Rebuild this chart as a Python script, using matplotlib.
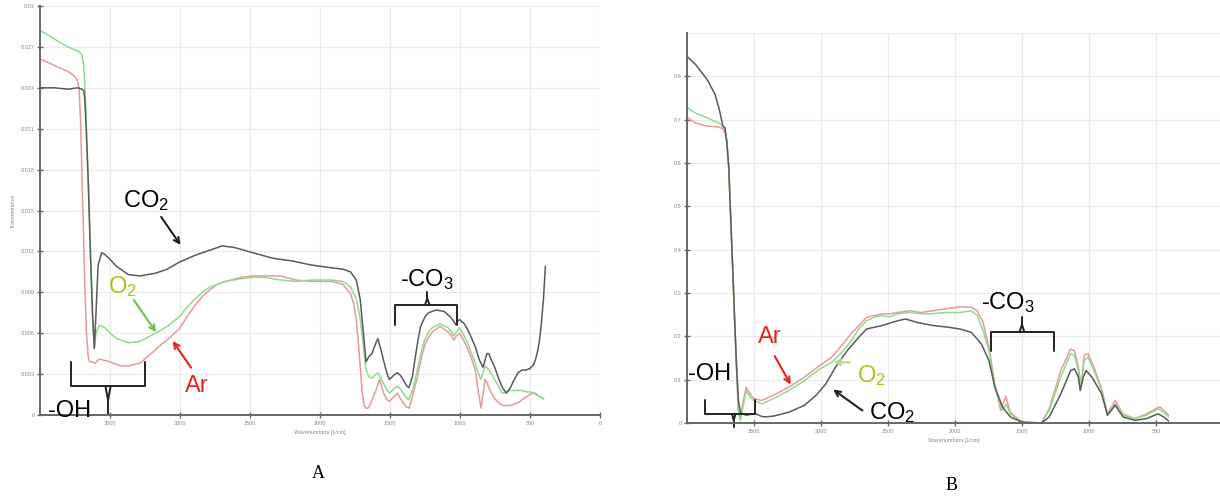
import numpy as np
import matplotlib
matplotlib.use("Agg")
import matplotlib.pyplot as plt

plt.rcParams['font.family'] = ['Liberation Sans', 'DejaVu Sans']
plt.rcParams['mathtext.default'] = 'regular'

# ---- panel A spectra (wavenumber, transmittance) ----
wn_a_co2 = [4000, 3900, 3800, 3731, 3700, 3688, 3680, 3670, 3655, 3640, 3625, 3612, 3600, 3585, 3560, 3540,
            3508, 3453, 3369, 3286, 3174, 3091, 3007, 2896, 2784, 2700, 2617, 2478, 2339, 2200, 2061, 1921,
            1838, 1782, 1741, 1713, 1690, 1671, 1650, 1629, 1600, 1587, 1565, 1546, 1520, 1504, 1475, 1448,
            1425, 1406, 1385, 1365, 1340, 1323, 1300, 1281, 1250, 1225, 1170, 1114, 1070, 1040, 1030, 1015,
            1003, 970, 947, 920, 891, 860, 836, 822, 808, 794, 775, 752, 725, 697, 669, 640, 613, 585, 558,
            530, 502, 474, 460, 445, 432, 418, 404, 390]
t_a_co2 = [0.0240, 0.0240, 0.0239, 0.0240, 0.0239, 0.0238, 0.0232, 0.0210, 0.0170, 0.0120, 0.0075, 0.0049,
           0.0075, 0.0110, 0.0119, 0.0118, 0.0115, 0.0109, 0.0103, 0.0102, 0.0104, 0.0107, 0.0112, 0.0117,
           0.0121, 0.0124, 0.0123, 0.0119, 0.0115, 0.0113, 0.0110, 0.0108, 0.0107, 0.0105, 0.0099, 0.0085,
           0.0060, 0.0039, 0.0043, 0.0045, 0.0053, 0.0056, 0.0048, 0.0040, 0.0030, 0.0026, 0.0029, 0.0031,
           0.0029, 0.0026, 0.0022, 0.0020, 0.0028, 0.0040, 0.0055, 0.0065, 0.0072, 0.0075, 0.0077, 0.0076,
           0.0072, 0.0068, 0.0066, 0.0069, 0.0070, 0.0067, 0.0063, 0.0057, 0.0050, 0.0040, 0.0035, 0.0040,
           0.0045, 0.0045, 0.0040, 0.0035, 0.0027, 0.0020, 0.0016, 0.0020, 0.0026, 0.0031, 0.0033, 0.0033,
           0.0034, 0.0037, 0.0041, 0.0047, 0.0055, 0.0068, 0.0085, 0.0109]

wn_a_o2 = [4000, 3930, 3870, 3800, 3731, 3703, 3690, 3680, 3670, 3655, 3640, 3625, 3612, 3600, 3578, 3536,
           3500, 3453, 3369, 3286, 3230, 3174, 3091, 3007, 2950, 2896, 2840, 2784, 2673, 2562, 2480, 2395,
           2283, 2172, 2061, 1921, 1838, 1782, 1741, 1715, 1699, 1680, 1671, 1650, 1629, 1610, 1587, 1565,
           1546, 1520, 1504, 1475, 1448, 1425, 1406, 1385, 1365, 1340, 1309, 1280, 1253, 1225, 1198, 1142,
           1086, 1060, 1044, 1025, 1003, 975, 947, 920, 891, 870, 850, 836, 822, 808, 794, 775, 752, 725,
           697, 669, 641, 613, 585, 558, 530, 502, 474, 440, 404]
t_a_o2 = [0.0282, 0.0278, 0.0274, 0.0270, 0.0267, 0.0265, 0.0258, 0.0245, 0.0215, 0.0170, 0.0115, 0.0072,
          0.0049, 0.0060, 0.0066, 0.0064, 0.0060, 0.0056, 0.0053, 0.0054, 0.0057, 0.0060, 0.0065, 0.0072,
          0.0079, 0.0085, 0.0090, 0.0094, 0.0098, 0.0100, 0.0101, 0.0101, 0.0099, 0.0098, 0.0099, 0.0099,
          0.0098, 0.0094, 0.0085, 0.0072, 0.0058, 0.0040, 0.0033, 0.0028, 0.0027, 0.0029, 0.0031, 0.0027,
          0.0023, 0.0018, 0.0016, 0.0019, 0.0021, 0.0019, 0.0016, 0.0013, 0.0011, 0.0018, 0.0031, 0.0045,
          0.0055, 0.0061, 0.0064, 0.0067, 0.0064, 0.0061, 0.0058, 0.0061, 0.0064, 0.0059, 0.0053, 0.0046,
          0.0038, 0.0031, 0.0026, 0.0031, 0.0036, 0.0035, 0.0033, 0.0030, 0.0026, 0.0021, 0.0016, 0.0017,
          0.0018, 0.0018, 0.0018, 0.0018, 0.0017, 0.0017, 0.0016, 0.0014, 0.0012]

wn_a_ar = [4000, 3930, 3870, 3800, 3760, 3735, 3721, 3710, 3700, 3690, 3680, 3668, 3655, 3645, 3630, 3606,
           3578, 3536, 3500, 3453, 3420, 3369, 3330, 3286, 3230, 3174, 3130, 3091, 3050, 3007, 2950, 2896,
           2840, 2784, 2730, 2673, 2562, 2480, 2395, 2283, 2172, 2061, 1921, 1838, 1782, 1760, 1741, 1725,
           1713, 1700, 1685, 1670, 1657, 1640, 1629, 1601, 1574, 1560, 1546, 1520, 1504, 1475, 1448, 1425,
           1406, 1385, 1365, 1340, 1309, 1280, 1253, 1225, 1198, 1142, 1086, 1060, 1044, 1025, 1003, 975,
           947, 920, 891, 870, 850, 836, 822, 808, 794, 775, 752, 725, 697, 669, 641, 613, 585, 558, 530,
           502, 474, 460, 440, 420, 404]
t_a_ar = [0.0261, 0.0258, 0.0255, 0.0252, 0.0249, 0.0246, 0.0240, 0.0215, 0.0175, 0.0135, 0.0095, 0.0060,
          0.0042, 0.0039, 0.0039, 0.0038, 0.0041, 0.0040, 0.0039, 0.0037, 0.0036, 0.0036, 0.0037, 0.0038,
          0.0043, 0.0048, 0.0052, 0.0055, 0.0059, 0.0063, 0.0072, 0.0080, 0.0087, 0.0092, 0.0096, 0.0098,
          0.0101, 0.0102, 0.0102, 0.0102, 0.0099, 0.0098, 0.0098, 0.0096, 0.0089, 0.0082, 0.0070, 0.0052,
          0.0036, 0.0018, 0.0007, 0.0005, 0.0005, 0.0008, 0.0011, 0.0018, 0.0026, 0.0021, 0.0016, 0.0011,
          0.0010, 0.0013, 0.0016, 0.0012, 0.0009, 0.0006, 0.0005, 0.0013, 0.0026, 0.0040, 0.0051, 0.0057,
          0.0061, 0.0065, 0.0061, 0.0058, 0.0055, 0.0058, 0.0060, 0.0055, 0.0049, 0.0042, 0.0033, 0.0018,
          0.0005, 0.0015, 0.0026, 0.0024, 0.0020, 0.0016, 0.0012, 0.0009, 0.0007, 0.0007, 0.0007, 0.0008,
          0.0009, 0.0011, 0.0013, 0.0015, 0.0016, 0.0016, 0.0014, 0.0013, 0.0012]

# ---- panel B spectra ----
wn_b_co2 = [4000, 3935, 3848, 3790, 3760, 3746, 3732, 3717, 3703, 3688, 3674, 3659, 3645, 3630, 3616, 3601,
            3587, 3558, 3500, 3486, 3442, 3413, 3355, 3326, 3239, 3123, 3036, 2964, 2891, 2804, 2717, 2659,
            2543, 2427, 2369, 2282, 2166, 2050, 1964, 1877, 1804, 1746, 1703, 1645, 1587, 1500, 1355, 1297,
            1210, 1137, 1108, 1079, 1065, 1042, 1021, 978, 905, 862, 804, 746, 659, 572, 485, 442, 407]
t_b_co2 = [0.846, 0.827, 0.792, 0.758, 0.725, 0.705, 0.685, 0.681, 0.650, 0.589, 0.474, 0.359, 0.244, 0.129,
           0.052, 0.025, 0.021, 0.018, 0.021, 0.021, 0.015, 0.014, 0.016, 0.018, 0.025, 0.041, 0.064, 0.090,
           0.129, 0.167, 0.198, 0.217, 0.225, 0.236, 0.240, 0.232, 0.225, 0.221, 0.217, 0.209, 0.183, 0.144,
           0.083, 0.037, 0.014, 0.002, 0.000, 0.014, 0.067, 0.121, 0.125, 0.106, 0.075, 0.106, 0.121, 0.106,
           0.067, 0.018, 0.041, 0.014, 0.006, 0.010, 0.021, 0.014, 0.005]

wn_b_o2 = [4000, 3935, 3848, 3761, 3732, 3717, 3703, 3688, 3674, 3659, 3645, 3630, 3616, 3601, 3580, 3558,
           3530, 3500, 3442, 3355, 3239, 3123, 3007, 2920, 2833, 2775, 2717, 2659, 2601, 2543, 2485, 2427,
           2340, 2253, 2166, 2079, 1964, 1877, 1833, 1790, 1746, 1703, 1645, 1616, 1587, 1500, 1355, 1297,
           1210, 1137, 1108, 1079, 1059, 1036, 1007, 963, 905, 862, 804, 746, 659, 572, 485, 442, 407]
t_b_o2 = [0.728, 0.715, 0.704, 0.692, 0.685, 0.681, 0.650, 0.589, 0.474, 0.359, 0.244, 0.129, 0.021, 0.006,
          0.040, 0.075, 0.060, 0.052, 0.044, 0.056, 0.075, 0.098, 0.125, 0.140, 0.167, 0.190, 0.217, 0.236,
          0.244, 0.248, 0.245, 0.252, 0.255, 0.252, 0.252, 0.255, 0.255, 0.259, 0.248, 0.213, 0.167, 0.083,
          0.029, 0.044, 0.021, 0.002, 0.000, 0.029, 0.106, 0.160, 0.156, 0.121, 0.083, 0.144, 0.152, 0.121,
          0.075, 0.018, 0.044, 0.018, 0.010, 0.018, 0.033, 0.025, 0.014]

wn_b_ar = [4000, 3935, 3848, 3761, 3732, 3717, 3703, 3688, 3674, 3659, 3645, 3630, 3616, 3601, 3580, 3558,
           3530, 3500, 3442, 3355, 3239, 3123, 3007, 2920, 2833, 2775, 2717, 2659, 2601, 2543, 2485, 2427,
           2340, 2253, 2166, 2079, 1964, 1877, 1833, 1790, 1746, 1703, 1659, 1621, 1587, 1500, 1355, 1297,
           1210, 1137, 1108, 1079, 1059, 1036, 1007, 963, 905, 862, 804, 746, 659, 572, 500, 471, 442, 407]
t_b_ar = [0.705, 0.692, 0.685, 0.683, 0.679, 0.670, 0.650, 0.589, 0.474, 0.359, 0.244, 0.129, 0.029, 0.015,
          0.050, 0.083, 0.068, 0.056, 0.052, 0.064, 0.083, 0.106, 0.133, 0.152, 0.183, 0.206, 0.225, 0.244,
          0.248, 0.252, 0.252, 0.255, 0.259, 0.255, 0.259, 0.263, 0.268, 0.267, 0.259, 0.232, 0.174, 0.090,
          0.029, 0.061, 0.025, 0.002, 0.000, 0.033, 0.121, 0.171, 0.167, 0.129, 0.083, 0.156, 0.160, 0.129,
          0.079, 0.021, 0.052, 0.021, 0.010, 0.021, 0.033, 0.037, 0.029, 0.018]

xticks = [3500, 3000, 2500, 2000, 1500, 1000, 500, 0]
yticks_a = [0, 0.003, 0.006, 0.009, 0.012, 0.015, 0.018, 0.021, 0.024, 0.027, 0.03]
yticks_b = [0, 0.1, 0.2, 0.3, 0.4, 0.5, 0.6, 0.7, 0.8]

c_co2 = '#5a5a5a'
c_o2 = '#8edb8e'
c_ar = '#e79a9a'
c_o2_txt = '#a8c41c'
c_ar_txt = '#e52420'


def style_axes(ax):
    for s in ('top', 'right'):
        ax.spines[s].set_visible(False)
    for s in ('left', 'bottom'):
        ax.spines[s].set_color('#666666')
        ax.spines[s].set_linewidth(1.4)
    ax.grid(True, color='#ebebeb', lw=0.8)
    ax.set_axisbelow(True)
    ax.tick_params(direction='inout', length=4, width=1, color='#666666',
                   labelsize=4, labelcolor='#888888', pad=2)


def brace(ax, x0, x1, xc, ybar, yend, ytip, color='#222222'):
    kw = dict(color=color, lw=1.4, clip_on=False, solid_capstyle='round')
    ax.plot([x0, x0, x1, x1], [yend, ybar, ybar, yend], **kw)
    mid = (ybar + ytip) / 2
    dx = abs(x1 - x0) * 0.035
    ax.plot([xc + dx, xc, xc - dx], [ybar, mid, ybar], **kw)
    ax.plot([xc, xc], [mid, ytip], **kw)


fig = plt.figure(figsize=(12.2, 4.96), dpi=100)

# ---------------- A ----------------
axa = fig.add_axes([0.0328, 0.1633, 0.459, 0.8246])
axa.plot(wn_a_ar, t_a_ar, color=c_ar, lw=1.1)
axa.plot(wn_a_o2, t_a_o2, color=c_o2, lw=1.1)
axa.plot(wn_a_co2, t_a_co2, color=c_co2, lw=1.1)
axa.set_xlim(4000, 0)
axa.set_ylim(0, 0.03)
axa.set_xticks(xticks)
axa.set_yticks(yticks_a)
axa.set_yticklabels(['0', '0.003', '0.006', '0.009', '0.012', '0.015', '0.018',
                     '0.021', '0.024', '0.027', '0.03'])
style_axes(axa)
axa.set_xlabel('Wavenumbers [1/cm]', fontsize=4, color='#888888', labelpad=3)
axa.set_ylabel('Transmittance', fontsize=4, color='#888888', labelpad=3)

axa.text(3244, 0.0157, 'CO$_2$', fontsize=17, ha='center', va='center')
axa.annotate('', xy=(2985, 0.0123), xytext=(3146, 0.0147),
             arrowprops=dict(arrowstyle='->', color='#222222', lw=1.5))
axa.text(3411, 0.0094, 'O$_2$', fontsize=17, color=c_o2_txt, ha='center', va='center')
axa.annotate('', xy=(3160, 0.0059), xytext=(3341, 0.0086),
             arrowprops=dict(arrowstyle='->', color='#6cc24a', lw=1.5))
axa.text(2882, 0.0021, 'Ar', fontsize=17, color=c_ar_txt, ha='center', va='center')
axa.annotate('', xy=(3063, 0.0056), xytext=(2910, 0.0033),
             arrowprops=dict(arrowstyle='->', color=c_ar_txt, lw=1.5))
axa.text(1239, 0.0099, '-CO$_3$', fontsize=17, ha='center', va='center')
brace(axa, 1462, 1025, 1234, 0.0081, 0.0066, 0.0090)
axa.text(3945, 0.0003, '-OH', fontsize=17, ha='left', va='center', clip_on=False)
brace(axa, 3778, 3252, 3514, 0.0021, 0.0039, 0.0001)

fig.text(0.261, 0.046, 'A', fontsize=13, family='Liberation Serif', ha='center', va='center')

# ---------------- B ----------------
axb = fig.add_axes([0.5631, 0.1472, 0.4369, 0.7863])
axb.plot(wn_b_ar, t_b_ar, color=c_ar, lw=1.1)
axb.plot(wn_b_o2, t_b_o2, color=c_o2, lw=1.1)
axb.plot(wn_b_co2, t_b_co2, color=c_co2, lw=1.1)
axb.set_xlim(4000, 22)
axb.set_ylim(0, 0.9)
axb.set_xticks(xticks[:-1])
axb.set_yticks(yticks_b)
axb.set_yticklabels(['0', '0.1', '0.2', '0.3', '0.4', '0.5', '0.6', '0.7', '0.8'])
style_axes(axb)
axb.axhline(0.9, color='#ebebeb', lw=0.8, zorder=0)
axb.set_xlabel('Wavenumbers [1/cm]', fontsize=4, color='#888888', labelpad=3)

axb.text(3990, 0.113, '-OH', fontsize=17, ha='left', va='center')
brace(axb, 3862, 3494, 3651, 0.021, 0.052, -0.009)
axb.text(3384, 0.198, 'Ar', fontsize=17, color=c_ar_txt, ha='center', va='center')
axb.annotate('', xy=(3216, 0.083), xytext=(3355, 0.160),
             arrowprops=dict(arrowstyle='->', color=c_ar_txt, lw=1.5))
axb.text(2624, 0.110, 'O$_2$', fontsize=17, color=c_o2_txt, ha='center', va='center')
axb.annotate('', xy=(2929, 0.140), xytext=(2761, 0.140),
             arrowprops=dict(arrowstyle='->', color='#b5da8c', lw=1.5))
axb.text(2471, 0.025, 'CO$_2$', fontsize=17, ha='center', va='center')
axb.annotate('', xy=(2926, 0.081), xytext=(2674, 0.025),
             arrowprops=dict(arrowstyle='->', color='#222222', lw=1.5))
axb.text(1601, 0.278, '-CO$_3$', fontsize=17, ha='center', va='center')
brace(axb, 1732, 1262, 1500, 0.211, 0.166, 0.244)

fig.text(0.78, 0.022, 'B', fontsize=13, family='Liberation Serif', ha='center', va='center')

fig.savefig('out.png', dpi=100)
